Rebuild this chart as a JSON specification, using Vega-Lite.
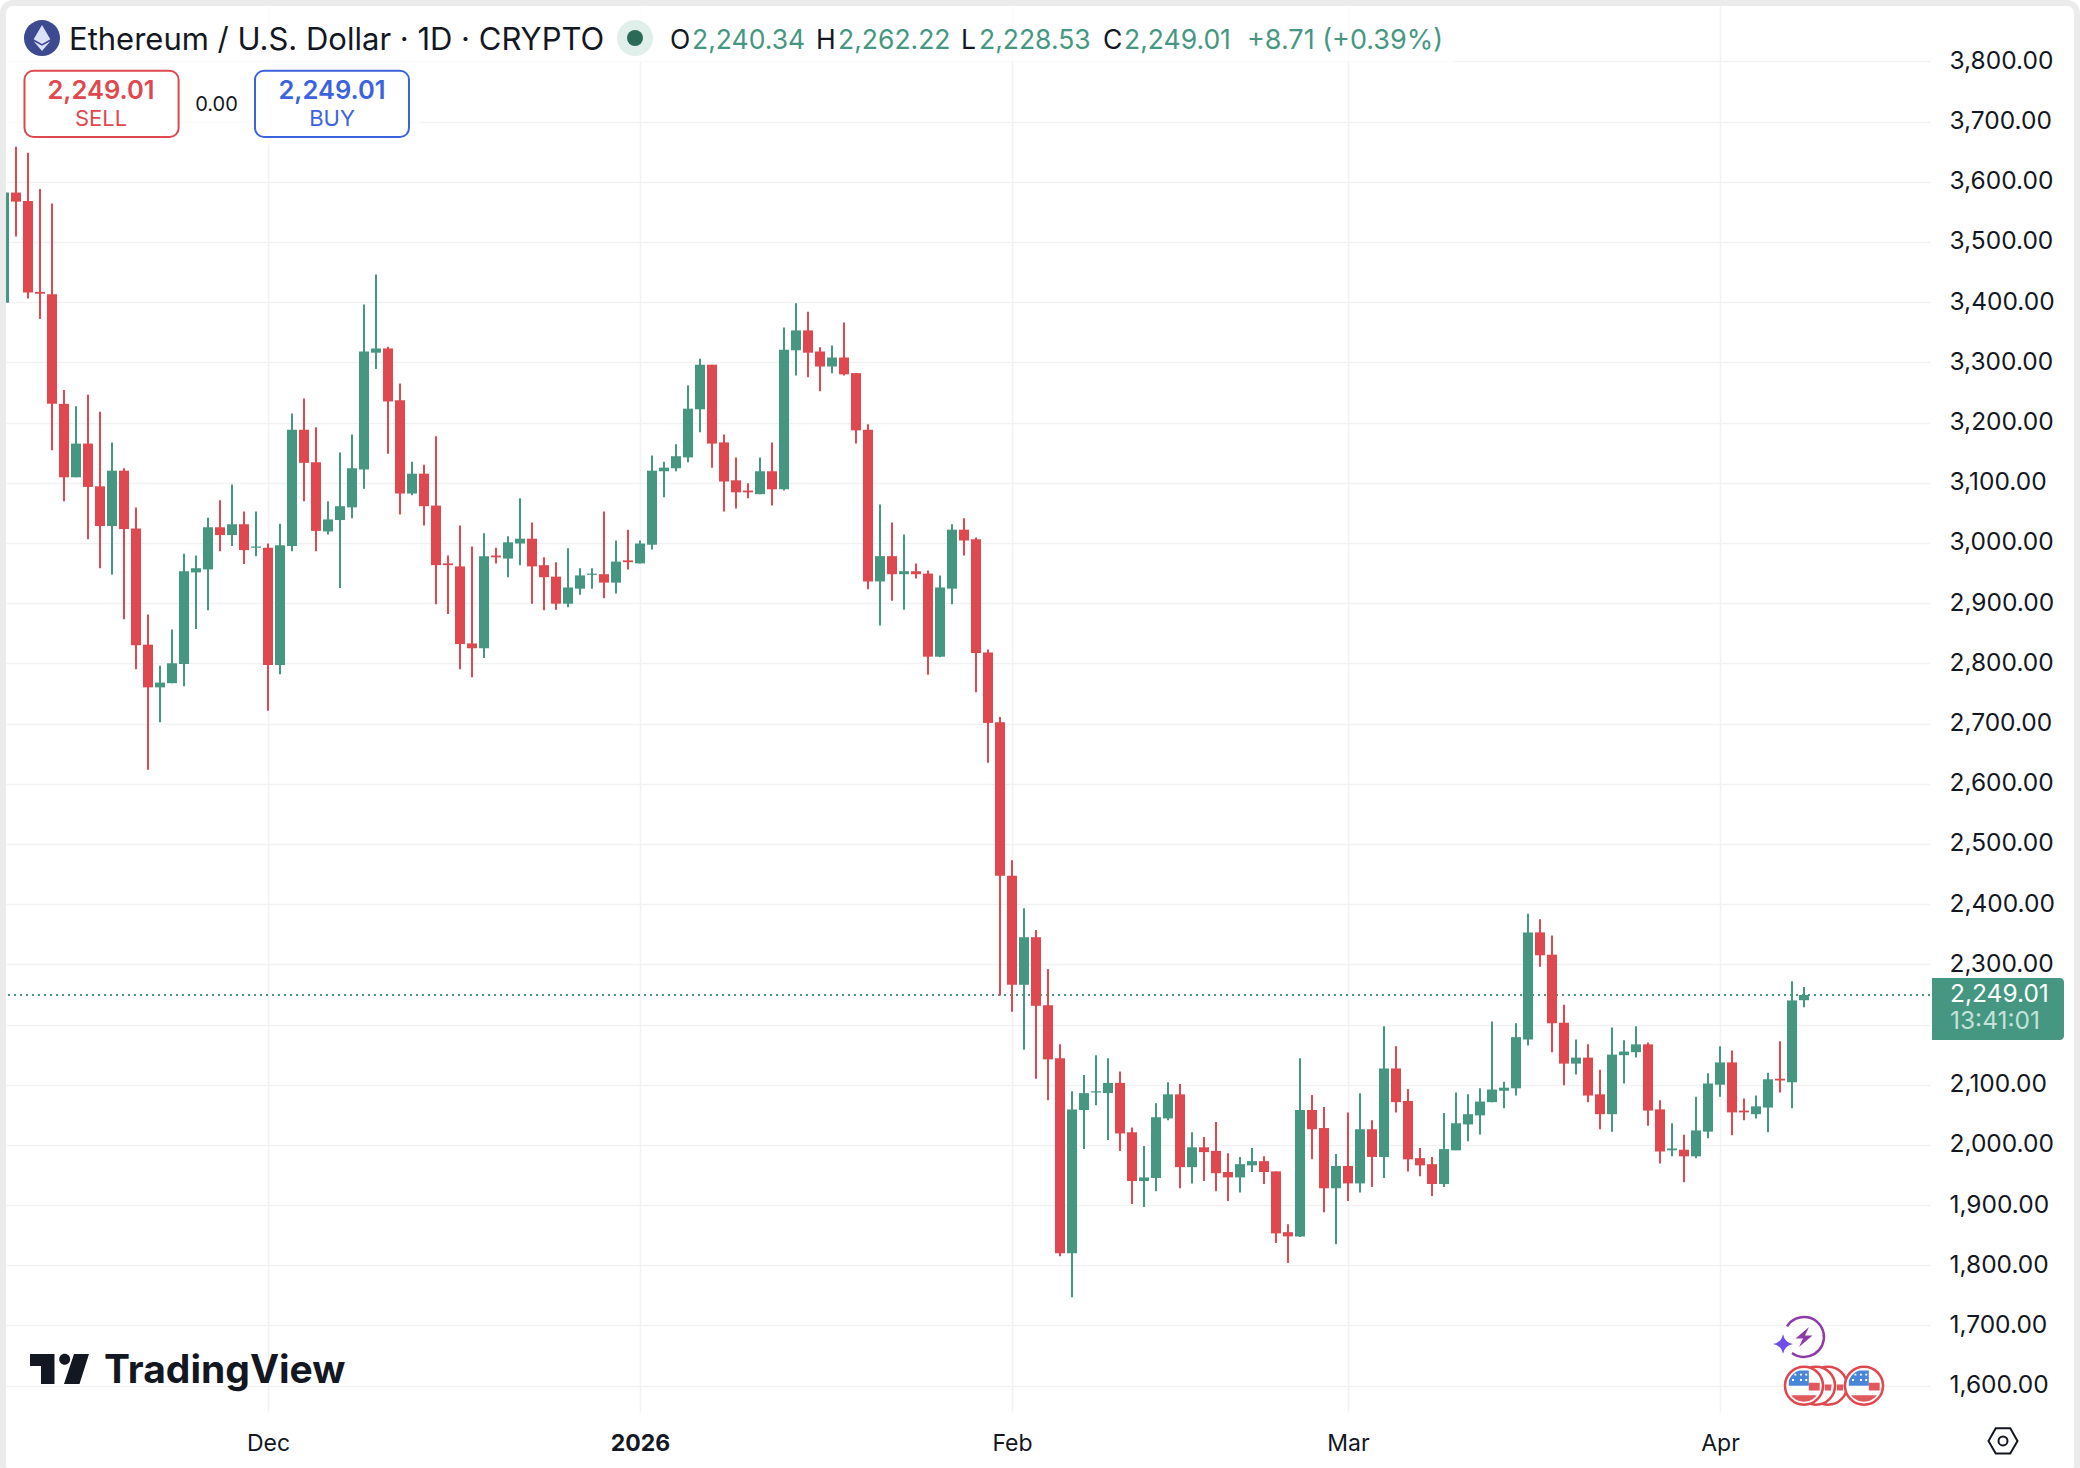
{
  "$schema": "https://vega.github.io/schema/vega-lite/v6.json",
  "width": 1924,
  "height": 1406,
  "autosize": "none",
  "padding": {"left": 6, "top": 6, "right": 150, "bottom": 56},
  "background": "#ffffff",
  "config": {"view": {"stroke": null}, "font": "Inter"},
  "datasets": {
    "candles": [
      {"date":"2025-11-09","open":3399,"high":3582,"low":3399,"close":3582},
      {"date":"2025-11-10","open":3582,"high":3658,"low":3509,"close":3567},
      {"date":"2025-11-11","open":3568,"high":3648,"low":3406,"close":3416},
      {"date":"2025-11-12","open":3417,"high":3588,"low":3372,"close":3414},
      {"date":"2025-11-13","open":3413,"high":3564,"low":3154,"close":3231},
      {"date":"2025-11-14","open":3231,"high":3254,"low":3069,"close":3109},
      {"date":"2025-11-15","open":3109,"high":3227,"low":3109,"close":3165},
      {"date":"2025-11-16","open":3165,"high":3246,"low":3006,"close":3093},
      {"date":"2025-11-17","open":3094,"high":3218,"low":2958,"close":3028},
      {"date":"2025-11-18","open":3028,"high":3167,"low":2947,"close":3120},
      {"date":"2025-11-19","open":3120,"high":3124,"low":2873,"close":3023},
      {"date":"2025-11-20","open":3024,"high":3059,"low":2790,"close":2830},
      {"date":"2025-11-21","open":2831,"high":2881,"low":2623,"close":2760},
      {"date":"2025-11-22","open":2760,"high":2796,"low":2702,"close":2768},
      {"date":"2025-11-23","open":2767,"high":2856,"low":2767,"close":2800},
      {"date":"2025-11-24","open":2799,"high":2982,"low":2762,"close":2953},
      {"date":"2025-11-25","open":2951,"high":2979,"low":2857,"close":2958},
      {"date":"2025-11-26","open":2956,"high":3042,"low":2888,"close":3026},
      {"date":"2025-11-27","open":3026,"high":3071,"low":2986,"close":3013},
      {"date":"2025-11-28","open":3013,"high":3097,"low":2995,"close":3031},
      {"date":"2025-11-29","open":3031,"high":3052,"low":2965,"close":2988},
      {"date":"2025-11-30","open":2992,"high":3052,"low":2978,"close":2994},
      {"date":"2025-12-01","open":2992,"high":2999,"low":2721,"close":2797},
      {"date":"2025-12-02","open":2797,"high":3032,"low":2782,"close":2996},
      {"date":"2025-12-03","open":2995,"high":3215,"low":2986,"close":3188},
      {"date":"2025-12-04","open":3188,"high":3240,"low":3069,"close":3133},
      {"date":"2025-12-05","open":3134,"high":3192,"low":2986,"close":3020},
      {"date":"2025-12-06","open":3019,"high":3069,"low":3014,"close":3039},
      {"date":"2025-12-07","open":3038,"high":3150,"low":2925,"close":3061},
      {"date":"2025-12-08","open":3059,"high":3180,"low":3041,"close":3124},
      {"date":"2025-12-09","open":3122,"high":3396,"low":3090,"close":3318},
      {"date":"2025-12-10","open":3316,"high":3446,"low":3289,"close":3323},
      {"date":"2025-12-11","open":3323,"high":3326,"low":3148,"close":3235},
      {"date":"2025-12-12","open":3237,"high":3265,"low":3047,"close":3082},
      {"date":"2025-12-13","open":3082,"high":3135,"low":3079,"close":3115},
      {"date":"2025-12-14","open":3115,"high":3130,"low":3029,"close":3061},
      {"date":"2025-12-15","open":3062,"high":3177,"low":2898,"close":2963},
      {"date":"2025-12-16","open":2966,"high":2979,"low":2882,"close":2963},
      {"date":"2025-12-17","open":2961,"high":3029,"low":2790,"close":2832},
      {"date":"2025-12-18","open":2833,"high":2994,"low":2777,"close":2825},
      {"date":"2025-12-19","open":2825,"high":3016,"low":2809,"close":2978},
      {"date":"2025-12-20","open":2979,"high":2992,"low":2966,"close":2976},
      {"date":"2025-12-21","open":2974,"high":3011,"low":2943,"close":3001},
      {"date":"2025-12-22","open":2999,"high":3074,"low":2963,"close":3007},
      {"date":"2025-12-23","open":3007,"high":3034,"low":2899,"close":2961},
      {"date":"2025-12-24","open":2963,"high":2976,"low":2888,"close":2943},
      {"date":"2025-12-25","open":2944,"high":2968,"low":2889,"close":2899},
      {"date":"2025-12-26","open":2899,"high":2991,"low":2893,"close":2926},
      {"date":"2025-12-27","open":2924,"high":2958,"low":2914,"close":2946},
      {"date":"2025-12-28","open":2947,"high":2958,"low":2924,"close":2949},
      {"date":"2025-12-29","open":2948,"high":3052,"low":2908,"close":2934},
      {"date":"2025-12-30","open":2934,"high":3004,"low":2916,"close":2969},
      {"date":"2025-12-31","open":2971,"high":3022,"low":2956,"close":2968},
      {"date":"2026-01-01","open":2966,"high":3004,"low":2966,"close":2999},
      {"date":"2026-01-02","open":2997,"high":3145,"low":2989,"close":3120},
      {"date":"2026-01-03","open":3119,"high":3135,"low":3076,"close":3125},
      {"date":"2026-01-04","open":3124,"high":3164,"low":3119,"close":3144},
      {"date":"2026-01-05","open":3142,"high":3262,"low":3134,"close":3223},
      {"date":"2026-01-06","open":3222,"high":3306,"low":3184,"close":3296},
      {"date":"2026-01-07","open":3296,"high":3296,"low":3125,"close":3165},
      {"date":"2026-01-08","open":3167,"high":3180,"low":3052,"close":3102},
      {"date":"2026-01-09","open":3104,"high":3142,"low":3057,"close":3084},
      {"date":"2026-01-10","open":3087,"high":3099,"low":3074,"close":3084},
      {"date":"2026-01-11","open":3081,"high":3142,"low":3081,"close":3119},
      {"date":"2026-01-12","open":3119,"high":3167,"low":3062,"close":3089},
      {"date":"2026-01-13","open":3089,"high":3358,"low":3087,"close":3321},
      {"date":"2026-01-14","open":3320,"high":3398,"low":3278,"close":3353},
      {"date":"2026-01-15","open":3353,"high":3384,"low":3275,"close":3316},
      {"date":"2026-01-16","open":3318,"high":3325,"low":3252,"close":3293},
      {"date":"2026-01-17","open":3293,"high":3328,"low":3282,"close":3308},
      {"date":"2026-01-18","open":3308,"high":3366,"low":3278,"close":3280},
      {"date":"2026-01-19","open":3282,"high":3282,"low":3165,"close":3187},
      {"date":"2026-01-20","open":3188,"high":3197,"low":2923,"close":2936},
      {"date":"2026-01-21","open":2936,"high":3064,"low":2863,"close":2978},
      {"date":"2026-01-22","open":2978,"high":3034,"low":2904,"close":2948},
      {"date":"2026-01-23","open":2948,"high":3014,"low":2889,"close":2953},
      {"date":"2026-01-24","open":2953,"high":2966,"low":2941,"close":2948},
      {"date":"2026-01-25","open":2949,"high":2954,"low":2781,"close":2811},
      {"date":"2026-01-26","open":2811,"high":2946,"low":2810,"close":2926},
      {"date":"2026-01-27","open":2924,"high":3031,"low":2898,"close":3022},
      {"date":"2026-01-28","open":3022,"high":3041,"low":2979,"close":3004},
      {"date":"2026-01-29","open":3006,"high":3009,"low":2752,"close":2817},
      {"date":"2026-01-30","open":2818,"high":2823,"low":2635,"close":2701},
      {"date":"2026-01-31","open":2702,"high":2711,"low":2248,"close":2447},
      {"date":"2026-02-01","open":2447,"high":2473,"low":2221,"close":2266},
      {"date":"2026-02-02","open":2266,"high":2393,"low":2158,"close":2345},
      {"date":"2026-02-03","open":2345,"high":2357,"low":2110,"close":2231},
      {"date":"2026-02-04","open":2232,"high":2292,"low":2074,"close":2142},
      {"date":"2026-02-05","open":2144,"high":2167,"low":1815,"close":1820},
      {"date":"2026-02-06","open":1820,"high":2089,"low":1747,"close":2059},
      {"date":"2026-02-07","open":2058,"high":2116,"low":1993,"close":2086},
      {"date":"2026-02-08","open":2087,"high":2149,"low":2066,"close":2089},
      {"date":"2026-02-09","open":2086,"high":2144,"low":2008,"close":2103},
      {"date":"2026-02-10","open":2103,"high":2122,"low":1990,"close":2019},
      {"date":"2026-02-11","open":2021,"high":2029,"low":1902,"close":1940},
      {"date":"2026-02-12","open":1940,"high":1998,"low":1897,"close":1946},
      {"date":"2026-02-13","open":1945,"high":2069,"low":1923,"close":2046},
      {"date":"2026-02-14","open":2044,"high":2104,"low":2041,"close":2084},
      {"date":"2026-02-15","open":2084,"high":2101,"low":1928,"close":1963},
      {"date":"2026-02-16","open":1963,"high":2021,"low":1936,"close":1996},
      {"date":"2026-02-17","open":1996,"high":2013,"low":1940,"close":1988},
      {"date":"2026-02-18","open":1990,"high":2038,"low":1923,"close":1953},
      {"date":"2026-02-19","open":1955,"high":1986,"low":1907,"close":1946},
      {"date":"2026-02-20","open":1946,"high":1980,"low":1921,"close":1968},
      {"date":"2026-02-21","open":1966,"high":1995,"low":1955,"close":1973},
      {"date":"2026-02-22","open":1973,"high":1981,"low":1935,"close":1955},
      {"date":"2026-02-23","open":1956,"high":1956,"low":1837,"close":1853},
      {"date":"2026-02-24","open":1855,"high":1868,"low":1804,"close":1848},
      {"date":"2026-02-25","open":1848,"high":2144,"low":1847,"close":2058},
      {"date":"2026-02-26","open":2058,"high":2083,"low":1976,"close":2026},
      {"date":"2026-02-27","open":2028,"high":2063,"low":1888,"close":1928},
      {"date":"2026-02-28","open":1928,"high":1985,"low":1835,"close":1965},
      {"date":"2026-03-01","open":1965,"high":2054,"low":1907,"close":1936},
      {"date":"2026-03-02","open":1936,"high":2086,"low":1921,"close":2026},
      {"date":"2026-03-03","open":2026,"high":2041,"low":1930,"close":1980},
      {"date":"2026-03-04","open":1980,"high":2197,"low":1945,"close":2127},
      {"date":"2026-03-05","open":2127,"high":2164,"low":2054,"close":2071},
      {"date":"2026-03-06","open":2073,"high":2093,"low":1956,"close":1976},
      {"date":"2026-03-07","open":1978,"high":1995,"low":1948,"close":1966},
      {"date":"2026-03-08","open":1968,"high":1980,"low":1915,"close":1935},
      {"date":"2026-03-09","open":1935,"high":2053,"low":1930,"close":1993},
      {"date":"2026-03-10","open":1991,"high":2087,"low":1991,"close":2036},
      {"date":"2026-03-11","open":2034,"high":2084,"low":2006,"close":2051},
      {"date":"2026-03-12","open":2049,"high":2094,"low":2017,"close":2072},
      {"date":"2026-03-13","open":2071,"high":2205,"low":2071,"close":2092},
      {"date":"2026-03-14","open":2090,"high":2105,"low":2061,"close":2095},
      {"date":"2026-03-15","open":2094,"high":2202,"low":2082,"close":2179},
      {"date":"2026-03-16","open":2175,"high":2384,"low":2165,"close":2353},
      {"date":"2026-03-17","open":2353,"high":2375,"low":2296,"close":2315},
      {"date":"2026-03-18","open":2316,"high":2348,"low":2154,"close":2202},
      {"date":"2026-03-19","open":2203,"high":2233,"low":2099,"close":2135},
      {"date":"2026-03-20","open":2135,"high":2175,"low":2117,"close":2145},
      {"date":"2026-03-21","open":2145,"high":2167,"low":2071,"close":2082},
      {"date":"2026-03-22","open":2084,"high":2125,"low":2026,"close":2051},
      {"date":"2026-03-23","open":2051,"high":2195,"low":2022,"close":2150},
      {"date":"2026-03-24","open":2149,"high":2174,"low":2102,"close":2155},
      {"date":"2026-03-25","open":2154,"high":2197,"low":2145,"close":2167},
      {"date":"2026-03-26","open":2167,"high":2170,"low":2032,"close":2057},
      {"date":"2026-03-27","open":2059,"high":2074,"low":1969,"close":1989},
      {"date":"2026-03-28","open":1991,"high":2036,"low":1981,"close":1994},
      {"date":"2026-03-29","open":1992,"high":2017,"low":1938,"close":1981},
      {"date":"2026-03-30","open":1981,"high":2080,"low":1978,"close":2024},
      {"date":"2026-03-31","open":2022,"high":2119,"low":2011,"close":2102},
      {"date":"2026-04-01","open":2100,"high":2164,"low":2080,"close":2137},
      {"date":"2026-04-02","open":2137,"high":2157,"low":2016,"close":2054},
      {"date":"2026-04-03","open":2057,"high":2077,"low":2041,"close":2054},
      {"date":"2026-04-04","open":2051,"high":2082,"low":2044,"close":2064},
      {"date":"2026-04-05","open":2062,"high":2120,"low":2021,"close":2109},
      {"date":"2026-04-06","open":2110,"high":2172,"low":2087,"close":2107},
      {"date":"2026-04-07","open":2104,"high":2272,"low":2061,"close":2240},
      {"date":"2026-04-08","open":2240.34,"high":2262.22,"low":2228.53,"close":2249.01}
    ],
    "rearEvents": [{"date":"2026-04-10"},{"date":"2026-04-09"}],
    "frontEvents": [{"date":"2026-04-08"},{"date":"2026-04-13"}]
  },
  "layer": [
    {
      "data": {"values": [{}]},
      "mark": {"type": "rule", "stroke": "#459782", "strokeWidth": 2, "strokeDash": [2, 4]},
      "encoding": {
        "y": {"datum": 2249.01, "type": "quantitative"}
      }
    },
    {
      "data": {"name": "candles"},
      "mark": {"type": "rule", "strokeWidth": 2, "clip": true},
      "encoding": {
        "x": {
          "field": "date",
          "type": "temporal",
          "scale": {"type": "utc", "domain": [1762660800000, 1776513600000], "nice": false, "padding": 0},
          "axis": {
            "title": null,
            "orient": "bottom",
            "values": [
              {"year": 2025, "month": 12, "date": 1, "utc": true},
              {"year": 2026, "month": 1, "date": 1, "utc": true},
              {"year": 2026, "month": 2, "date": 1, "utc": true},
              {"year": 2026, "month": 3, "date": 1, "utc": true},
              {"year": 2026, "month": 4, "date": 1, "utc": true}
            ],
            "labelExpr": "utcmonth(datum.value) == 0 ? utcFormat(datum.value, '%Y') : utcFormat(datum.value, '%b')",
            "labelFontWeight": {"condition": {"test": "utcmonth(datum.value) == 0", "value": "bold"}, "value": "normal"},
            "labelFontSize": 23,
            "labelColor": "#131722",
            "labelPadding": 20,
            "domain": false,
            "ticks": false,
            "grid": true,
            "gridColor": "#f2f2f3",
            "gridWidth": 1.5
          }
        },
        "y": {
          "field": "low",
          "type": "quantitative",
          "scale": {"domain": [1556.3, 3891.9], "nice": false, "zero": false},
          "axis": {
            "title": null,
            "orient": "right",
            "values": [1600,1700,1800,1900,2000,2100,2200,2300,2400,2500,2600,2700,2800,2900,3000,3100,3200,3300,3400,3500,3600,3700,3800],
            "labelExpr": "datum.value == 2200 ? '' : format(datum.value, ',.2f')",
            "labelFontSize": 24.5,
            "labelColor": "#131722",
            "labelPadding": 19,
            "domain": false,
            "ticks": false,
            "grid": true,
            "gridColor": "#f2f2f3",
            "gridWidth": 1.5
          }
        },
        "y2": {"field": "high"},
        "color": {"condition": {"test": "datum.close >= datum.open", "value": "#459782"}, "value": "#df484f"}
      }
    },
    {
      "data": {"name": "candles"},
      "mark": {"type": "bar", "size": 10, "clip": true},
      "encoding": {
        "x": {"field": "date", "type": "temporal"},
        "y": {"field": "open", "type": "quantitative"},
        "y2": {"field": "close"},
        "color": {"condition": {"test": "datum.close >= datum.open", "value": "#459782"}, "value": "#df484f"}
      }
    },
    {
      "data": {"values": [{}]},
      "mark": {"type": "rect", "fill": "#ffffff", "opacity": 0.7},
      "encoding": {
        "x": {"datum": 1762660800000, "type": "temporal"},
        "x2": {"datum": 1773086400000},
        "y": {"datum": 3891.9, "type": "quantitative"},
        "y2": {"datum": 3798.8}
      }
    },
    {
      "data": {"values": [{}]},
      "mark": {"type": "rect", "fill": "#ffffff", "opacity": 0.7},
      "encoding": {
        "x": {"datum": 1762660800000, "type": "temporal"},
        "x2": {"datum": 1765641600000},
        "y": {"datum": 3798.8, "type": "quantitative"},
        "y2": {"datum": 3661}
      }
    },
    {
      "data": {"values": [{}]},
      "mark": {"type": "rect", "fill": "transparent", "stroke": "#ebebeb", "strokeWidth": 6, "cornerRadius": 10},
      "encoding": {
        "x": {"datum": 1762639200000, "type": "temporal"},
        "x2": {"datum": 1777572000000},
        "y": {"datum": 3896.8, "type": "quantitative"},
        "y2": {"datum": 1451.7}
      }
    },
    {
      "data": {"values": [{}]},
      "mark": {"type": "point", "filled": true, "fill": "#3e4a8f", "size": 1296, "shape": "circle", "opacity": 1},
      "encoding": {
        "x": {"datum": 1762920000000, "type": "temporal"},
        "y": {"datum": 3838.7, "type": "quantitative"}
      }
    },
    {
      "data": {"values": [{}]},
      "mark": {"type": "point", "filled": true, "fill": "#dbe1f7", "size": 676, "opacity": 1, "shape": "M0,-1L0.64,0.1L0,0.45L-0.64,0.1ZM0,0.6L0.64,0.25L0,1L-0.64,0.25Z"},
      "encoding": {
        "x": {"datum": 1762920000000, "type": "temporal"},
        "y": {"datum": 3838.7, "type": "quantitative"}
      }
    },
    {
      "data": {"values": [{"label": "Ethereum / U.S. Dollar · 1D · CRYPTO"}]},
      "mark": {"type": "text", "align": "left", "baseline": "alphabetic", "fontSize": 31, "color": "#131722"},
      "encoding": {
        "x": {"datum": 1763114400000, "type": "temporal"},
        "y": {"datum": 3818.8, "type": "quantitative"},
        "text": {"field": "label"}
      }
    },
    {
      "data": {"values": [{}]},
      "mark": {"type": "point", "filled": true, "fill": "#e0efe9", "size": 1296, "shape": "circle", "opacity": 1},
      "encoding": {
        "x": {"datum": 1767189600000, "type": "temporal"},
        "y": {"datum": 3838.7, "type": "quantitative"}
      }
    },
    {
      "data": {"values": [{}]},
      "mark": {"type": "point", "filled": true, "fill": "#2a6a57", "size": 256, "shape": "circle", "opacity": 1},
      "encoding": {
        "x": {"datum": 1767189600000, "type": "temporal"},
        "y": {"datum": 3838.7, "type": "quantitative"}
      }
    },
    {
      "data": {"values": [{"label": "O"}]},
      "mark": {"type": "text", "align": "left", "baseline": "alphabetic", "fontSize": 26.5, "color": "#131722"},
      "encoding": {"x": {"datum": 1767441600000, "type": "temporal"}, "y": {"datum": 3821.3, "type": "quantitative"}, "text": {"field": "label"}}
    },
    {
      "data": {"values": [{"label": "2,240.34"}]},
      "mark": {"type": "text", "align": "left", "baseline": "alphabetic", "fontSize": 26.5, "color": "#459782"},
      "encoding": {"x": {"datum": 1767600000000, "type": "temporal"}, "y": {"datum": 3821.3, "type": "quantitative"}, "text": {"field": "label"}}
    },
    {
      "data": {"values": [{"label": "H"}]},
      "mark": {"type": "text", "align": "left", "baseline": "alphabetic", "fontSize": 26.5, "color": "#131722"},
      "encoding": {"x": {"datum": 1768492800000, "type": "temporal"}, "y": {"datum": 3821.3, "type": "quantitative"}, "text": {"field": "label"}}
    },
    {
      "data": {"values": [{"label": "2,262.22"}]},
      "mark": {"type": "text", "align": "left", "baseline": "alphabetic", "fontSize": 26.5, "color": "#459782"},
      "encoding": {"x": {"datum": 1768651200000, "type": "temporal"}, "y": {"datum": 3821.3, "type": "quantitative"}, "text": {"field": "label"}}
    },
    {
      "data": {"values": [{"label": "L"}]},
      "mark": {"type": "text", "align": "left", "baseline": "alphabetic", "fontSize": 26.5, "color": "#131722"},
      "encoding": {"x": {"datum": 1769536800000, "type": "temporal"}, "y": {"datum": 3821.3, "type": "quantitative"}, "text": {"field": "label"}}
    },
    {
      "data": {"values": [{"label": "2,228.53"}]},
      "mark": {"type": "text", "align": "left", "baseline": "alphabetic", "fontSize": 26.5, "color": "#459782"},
      "encoding": {"x": {"datum": 1769666400000, "type": "temporal"}, "y": {"datum": 3821.3, "type": "quantitative"}, "text": {"field": "label"}}
    },
    {
      "data": {"values": [{"label": "C"}]},
      "mark": {"type": "text", "align": "left", "baseline": "alphabetic", "fontSize": 26.5, "color": "#131722"},
      "encoding": {"x": {"datum": 1770559200000, "type": "temporal"}, "y": {"datum": 3821.3, "type": "quantitative"}, "text": {"field": "label"}}
    },
    {
      "data": {"values": [{"label": "2,249.01"}]},
      "mark": {"type": "text", "align": "left", "baseline": "alphabetic", "fontSize": 26.5, "color": "#459782"},
      "encoding": {"x": {"datum": 1770710400000, "type": "temporal"}, "y": {"datum": 3821.3, "type": "quantitative"}, "text": {"field": "label"}}
    },
    {
      "data": {"values": [{"label": "+8.71 (+0.39%)"}]},
      "mark": {"type": "text", "align": "left", "baseline": "alphabetic", "fontSize": 27, "color": "#459782"},
      "encoding": {"x": {"datum": 1771596000000, "type": "temporal"}, "y": {"datum": 3821.3, "type": "quantitative"}, "text": {"field": "label"}}
    },
    {
      "data": {"values": [{}]},
      "mark": {"type": "rect", "fill": "#ffffff", "stroke": "#df484f", "strokeWidth": 2, "cornerRadius": 9},
      "encoding": {
        "x": {"datum": 1762794000000, "type": "temporal"},
        "x2": {"datum": 1763903520000},
        "y": {"datum": 3784.4, "type": "quantitative"},
        "y2": {"datum": 3674.3}
      }
    },
    {
      "data": {"values": [{}]},
      "mark": {"type": "rect", "fill": "#ffffff", "stroke": "#3b63dd", "strokeWidth": 2, "cornerRadius": 9},
      "encoding": {
        "x": {"datum": 1764453600000, "type": "temporal"},
        "x2": {"datum": 1765562400000},
        "y": {"datum": 3784.4, "type": "quantitative"},
        "y2": {"datum": 3674.3}
      }
    },
    {
      "data": {"values": [{"label": "2,249.01"}]},
      "mark": {"type": "text", "align": "center", "baseline": "alphabetic", "fontSize": 25.5, "fontWeight": 600, "color": "#df484f"},
      "encoding": {"x": {"datum": 1763344800000, "type": "temporal"}, "y": {"datum": 3737.4, "type": "quantitative"}, "text": {"field": "label"}}
    },
    {
      "data": {"values": [{"label": "SELL"}]},
      "mark": {"type": "text", "align": "center", "baseline": "alphabetic", "fontSize": 22, "color": "#df484f"},
      "encoding": {"x": {"datum": 1763344800000, "type": "temporal"}, "y": {"datum": 3693, "type": "quantitative"}, "text": {"field": "label"}}
    },
    {
      "data": {"values": [{"label": "0.00"}]},
      "mark": {"type": "text", "align": "center", "baseline": "alphabetic", "fontSize": 20, "color": "#131722"},
      "encoding": {"x": {"datum": 1764176400000, "type": "temporal"}, "y": {"datum": 3717.9, "type": "quantitative"}, "text": {"field": "label"}}
    },
    {
      "data": {"values": [{"label": "2,249.01"}]},
      "mark": {"type": "text", "align": "center", "baseline": "alphabetic", "fontSize": 25.5, "fontWeight": 600, "color": "#3b63dd"},
      "encoding": {"x": {"datum": 1765008000000, "type": "temporal"}, "y": {"datum": 3737.4, "type": "quantitative"}, "text": {"field": "label"}}
    },
    {
      "data": {"values": [{"label": "BUY"}]},
      "mark": {"type": "text", "align": "center", "baseline": "alphabetic", "fontSize": 22, "color": "#3b63dd"},
      "encoding": {"x": {"datum": 1765008000000, "type": "temporal"}, "y": {"datum": 3693, "type": "quantitative"}, "text": {"field": "label"}}
    },
    {
      "data": {"values": [{}]},
      "mark": {"type": "rect", "fill": "#459782", "cornerRadiusTopRight": 4, "cornerRadiusBottomRight": 4},
      "encoding": {
        "x": {"datum": 1776528000000, "type": "temporal"},
        "x2": {"datum": 1777478400000},
        "y": {"datum": 2277.2, "type": "quantitative"},
        "y2": {"datum": 2174.3}
      }
    },
    {
      "data": {"values": [{"label": "2,249.01"}]},
      "mark": {"type": "text", "align": "left", "baseline": "alphabetic", "fontSize": 24.5, "color": "#ffffff"},
      "encoding": {"x": {"datum": 1776657600000, "type": "temporal"}, "y": {"datum": 2237.9, "type": "quantitative"}, "text": {"field": "label"}}
    },
    {
      "data": {"values": [{"label": "13:41:01"}]},
      "mark": {"type": "text", "align": "left", "baseline": "alphabetic", "fontSize": 24.5, "color": "#c3e2d9"},
      "encoding": {"x": {"datum": 1776657600000, "type": "temporal"}, "y": {"datum": 2192.5, "type": "quantitative"}, "text": {"field": "label"}}
    },
    {
      "data": {"values": [{"label": "TradingView"}]},
      "mark": {"type": "text", "align": "left", "baseline": "alphabetic", "fontSize": 39, "fontWeight": 700, "color": "#131722"},
      "encoding": {"x": {"datum": 1763366400000, "type": "temporal"}, "y": {"datum": 1604.5, "type": "quantitative"}, "text": {"field": "label"}}
    },
    {
      "data": {"values": [{}]},
      "mark": {"type": "point", "filled": true, "fill": "#131722", "size": 3600, "opacity": 1, "shape": "M-0.983,-0.5L-0.167,-0.5L-0.167,0.5L-0.617,0.5L-0.617,-0.1L-0.983,-0.1ZM0.483,-0.5L0.983,-0.5L0.667,0.5L0.15,0.5ZM-0.01,-0.323a0.183,0.183 0 1,0 0.366,0a0.183,0.183 0 1,0 -0.366,0Z"},
      "encoding": {"x": {"datum": 1763046000000, "type": "temporal"}, "y": {"datum": 1627.8, "type": "quantitative"}}
    },
    {
      "data": {"values": [{}]},
      "mark": {"type": "point", "filled": false, "stroke": "#8e3ba8", "strokeWidth": 2.5, "size": 1600, "opacity": 1, "shape": "M-0.85,-0.53A1,1 0 1,1 -0.6,0.8"},
      "encoding": {"x": {"datum": 1775606400000, "type": "temporal"}, "y": {"datum": 1681, "type": "quantitative"}}
    },
    {
      "data": {"values": [{}]},
      "mark": {"type": "point", "filled": true, "fill": "#8e3ba8", "size": 400, "opacity": 1, "shape": "M0.5,-1L-0.85,0.15L-0.1,0.15L-0.5,1L0.85,-0.15L0.1,-0.15Z"},
      "encoding": {"x": {"datum": 1775606400000, "type": "temporal"}, "y": {"datum": 1681, "type": "quantitative"}}
    },
    {
      "data": {"values": [{}]},
      "mark": {"type": "point", "filled": true, "fill": "#6e4fe8", "size": 400, "opacity": 1, "shape": "M0,-1Q0.15,-0.15 1,0Q0.15,0.15 0,1Q-0.15,0.15 -1,0Q-0.15,-0.15 0,-1Z"},
      "encoding": {"x": {"datum": 1775455200000, "type": "temporal"}, "y": {"datum": 1669.3, "type": "quantitative"}}
    },
    {
      "data": {"name": "rearEvents"},
      "mark": {"type": "point", "filled": true, "fill": "#ffffff", "stroke": "#df484f", "strokeWidth": 2.5, "size": 1444, "shape": "circle", "opacity": 1},
      "encoding": {"x": {"field": "date", "type": "temporal"}, "y": {"datum": 1600, "type": "quantitative"}}
    },
    {
      "data": {"name": "rearEvents"},
      "mark": {"type": "point", "filled": true, "fill": "#e2575b", "size": 1024, "opacity": 1, "shape": "M0.55,-0.08L0.98,-0.08L0.93,0.3L0.55,0.3Z"},
      "encoding": {"x": {"field": "date", "type": "temporal"}, "y": {"datum": 1600, "type": "quantitative"}}
    },
    {
      "data": {"name": "frontEvents"},
      "mark": {"type": "point", "filled": true, "fill": "#ffffff", "stroke": "#df484f", "strokeWidth": 2.5, "size": 1444, "shape": "circle", "opacity": 1},
      "encoding": {"x": {"field": "date", "type": "temporal"}, "y": {"datum": 1600, "type": "quantitative"}}
    },
    {
      "data": {"name": "frontEvents"},
      "mark": {"type": "point", "filled": true, "fill": "#e2575b", "size": 1024, "opacity": 1, "shape": "M0.3,-0.18L0.98,-0.18L0.98,0.3L0.3,0.3ZM-0.8,0.6A1,1 0 0,0 0.8,0.6Z"},
      "encoding": {"x": {"field": "date", "type": "temporal"}, "y": {"datum": 1600, "type": "quantitative"}}
    },
    {
      "data": {"name": "frontEvents"},
      "mark": {"type": "point", "filled": true, "fill": "#4a86d8", "size": 1024, "opacity": 1, "shape": "M-0.95,0L0.3,0L0.3,-0.95L-0.3,-0.95A1,1 0 0,0 -0.95,-0.3Z"},
      "encoding": {"x": {"field": "date", "type": "temporal"}, "y": {"datum": 1600, "type": "quantitative"}}
    },
    {
      "data": {"name": "frontEvents"},
      "mark": {"type": "point", "filled": true, "fill": "#ffffff", "size": 1024, "opacity": 1, "shape": "M-0.6,-0.75h0.12v0.12h-0.12ZM-0.25,-0.75h0.12v0.12h-0.12ZM0.08,-0.75h0.12v0.12h-0.12ZM-0.75,-0.42h0.12v0.12h-0.12ZM-0.25,-0.42h0.12v0.12h-0.12ZM0.08,-0.42h0.12v0.12h-0.12Z"},
      "encoding": {"x": {"field": "date", "type": "temporal"}, "y": {"datum": 1600, "type": "quantitative"}}
    },
    {
      "data": {"values": [{}]},
      "mark": {"type": "point", "filled": false, "stroke": "#131722", "strokeWidth": 2, "size": 841, "opacity": 1, "shape": "M-1,0L-0.5,-0.87L0.5,-0.87L1,0L0.5,0.87L-0.5,0.87Z"},
      "encoding": {"x": {"datum": 1777039200000, "type": "temporal"}, "y": {"datum": 1508.3, "type": "quantitative"}}
    },
    {
      "data": {"values": [{}]},
      "mark": {"type": "point", "filled": false, "stroke": "#131722", "strokeWidth": 2, "size": 81, "shape": "circle", "opacity": 1},
      "encoding": {"x": {"datum": 1777039200000, "type": "temporal"}, "y": {"datum": 1508.3, "type": "quantitative"}}
    }
  ]
}
